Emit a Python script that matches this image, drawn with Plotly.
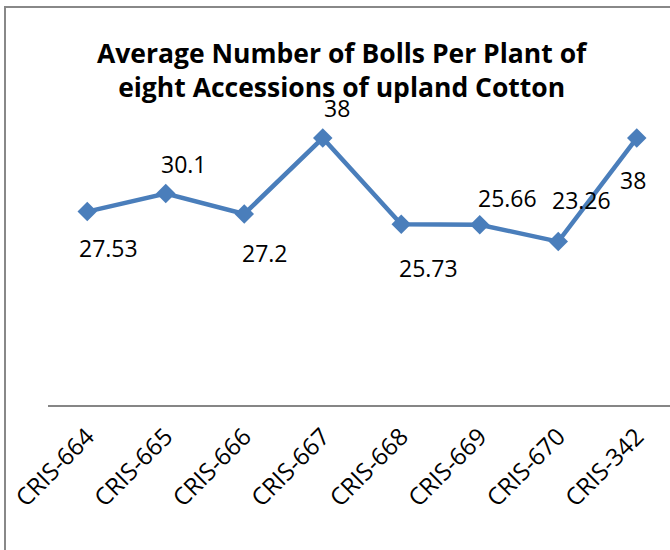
import plotly.graph_objects as go

categories = ["CRIS-664", "CRIS-665", "CRIS-666", "CRIS-667",
              "CRIS-668", "CRIS-669", "CRIS-670", "CRIS-342"]
bolls = [27.53, 30.1, 27.2, 38, 25.73, 25.66, 23.26, 38]
label_text = ["27.53", "30.1", "27.2", "38", "25.73", "25.66", "23.26", "38"]

# pixel offsets of data labels relative to their points (style only)
label_dx = [21, 18, 21, 14, 27, 28, 23, -4]
label_dy = [-36, 30, -39, 30, -44, 27, 42, -42]

W, H = 670, 550
ML, MR, MT, MB = 48, 0, 124, 145

color = "#4A7EBB"

fig = go.Figure()
fig.add_trace(go.Scatter(
    x=categories, y=bolls, mode="lines+markers",
    line=dict(color=color, width=4.5),
    marker=dict(symbol="diamond", size=15, color=color),
    cliponaxis=False, showlegend=False, hoverinfo="x+y",
))

annotations = []
for c, v, t, dx, dy in zip(categories, bolls, label_text, label_dx, label_dy):
    annotations.append(dict(
        x=c, y=v, xref="x", yref="y", text=t, showarrow=False,
        xshift=dx, yshift=dy, xanchor="center", yanchor="middle",
        font=dict(family="Open Sans", size=23, color="#000000"),
    ))

annotations.append(dict(
    text="Average Number of Bolls Per Plant of<br>eight Accessions of upland Cotton",
    xref="paper", yref="paper",
    x=(342 - ML) / (W - ML - MR), y=(H - MB - 70) / (H - MT - MB),
    xanchor="center", yanchor="middle", showarrow=False,
    font=dict(family="Open Sans", size=26.5, color="#000000", weight="bold"),
))

pw = W - ML - MR
ph = H - MT - MB
frame = dict(
    type="rect", xref="paper", yref="paper",
    x0=(5 - ML) / pw, x1=(W + 20 - ML) / pw,
    y0=(H - MB - (H + 20)) / ph, y1=(H - MB - 7) / ph,
    line=dict(color="#888888", width=2), fillcolor="rgba(0,0,0,0)",
    layer="below",
)

fig.update_layout(
    width=W, height=H,
    margin=dict(l=ML, r=MR, t=MT, b=MB),
    paper_bgcolor="white", plot_bgcolor="white",
    annotations=annotations,
    shapes=[frame],
    xaxis=dict(
        type="category", range=[-0.5, 7.5 - 6 / 78.5],
        showline=True, linecolor="#868686", linewidth=2,
        showgrid=False, zeroline=False, ticks="",
        tickangle=-45, ticklabelstandoff=6,
        tickfont=dict(family="Open Sans", size=24, color="#000000"),
    ),
    yaxis=dict(
        range=[0, 40], visible=False, showgrid=False, zeroline=False,
    ),
)

fig.write_html(
    "out.html",
    config={"displayModeBar": False},
    post_script="document.body.style.margin='0';document.body.style.overflow='hidden';",
)
